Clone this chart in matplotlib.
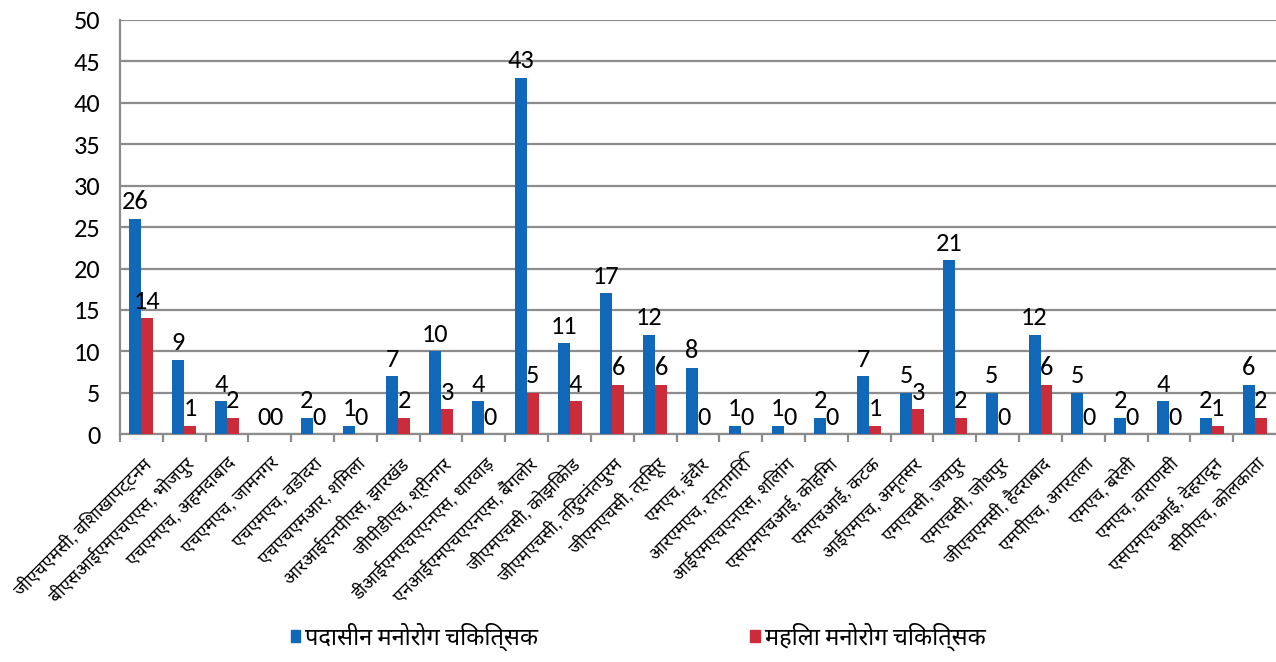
import matplotlib
matplotlib.use("Agg")
import matplotlib.pyplot as plt
from matplotlib import font_manager
from matplotlib.patches import Patch

categories = [
    "जीएचएमसी, विशाखापट्टनम", "बीएसआईएमएचएएस, भोजपुर", "एचएमएच, अहमदाबाद",
    "एचएमएच, जामनगर", "एचएमएच, वडोदरा", "एचएचएमआर, शिमला",
    "आरआईएनपीएस, झारखंड", "जीपीडीएच, श्रीनगर", "डीआईएमएचएएनएस, धारवाड़",
    "एनआईएमएचएएनएस, बैंगलोर", "जीएमएचसी, कोझिकोड", "जीएमएचसी, तिरुवनंतपुरम",
    "जीएमएचसी, त्रिसूर", "एमएच, इंदौर", "आरएमएच, रत्नागिरि",
    "आईएमएचएनएस, शिलांग", "एसएमएचआई, कोहिमा", "एमएचआई, कटक",
    "आईएमएच, अमृतसर", "एमएचसी, जयपुर", "एमएचसी, जोधपुर",
    "जीएचएमसी, हैदराबाद", "एमपीएच, अगरतला", "एमएच, बरेली",
    "एमएच, वाराणसी", "एसएमएचआई, देहरादून", "सीपीएच, कोलकाता",
]
incumbent = [26, 9, 4, 0, 2, 1, 7, 10, 4, 43, 11, 17, 12, 8, 1, 1, 2, 7, 5, 21, 5, 12, 5, 2, 4, 2, 6]
female = [14, 1, 2, 0, 0, 0, 2, 3, 0, 5, 4, 6, 6, 0, 0, 0, 0, 1, 3, 2, 0, 6, 0, 0, 0, 1, 2]
series_names = ["पदासीन मनोरोग चिकित्सक", "महिला मनोरोग चिकित्सक"]

# pick fonts: a Calibri-like one for digits, a proportional one for Devanagari
names = {f.name for f in font_manager.fontManager.ttflist}
latin = next((n for n in ["Carlito", "Lato", "Open Sans"] if n in names), "DejaVu Sans")
deva = next((n for n in ["Noto Sans Devanagari", "Mukta", "Ek Mukta", "Hind", "FreeSans"]
             if n in names), "DejaVu Sans")
plt.rcParams["font.family"] = [latin, deva, "DejaVu Sans"]

blue = "#1268b8"
red = "#cc2b3a"
grid_c = "#8c8c8c"

fig = plt.figure(figsize=(12.76, 6.62), dpi=100)
ax = fig.add_axes([0.094, 0.344, 0.906, 0.626])

x = list(range(len(categories)))
w = 0.28
ax.bar([i - w / 2 for i in x], incumbent, w, color=blue, zorder=3)
ax.bar([i + w / 2 for i in x], female, w, color=red, zorder=3)

for i, v in enumerate(incumbent):
    ax.annotate(str(v), (i - w / 2, v), xytext=(0, 4), textcoords="offset points",
                ha="center", va="bottom", fontsize=19, zorder=4)
for i, v in enumerate(female):
    ax.annotate(str(v), (i + w / 2, v), xytext=(0, 4), textcoords="offset points",
                ha="center", va="bottom", fontsize=19, zorder=4)

ax.set_xlim(-0.5, len(categories) - 0.5)
ax.set_ylim(0, 50)
ax.set_yticks(range(0, 51, 5))
ax.yaxis.grid(True, color=grid_c, linewidth=1.6, zorder=0)
ax.tick_params(axis="y", length=0, labelsize=19, pad=14)

ax.set_xticks([i + 0.5 for i in x[:-1]] + [-0.5], minor=True)
ax.set_xticks(x)
ax.set_xticklabels(categories, rotation=45, ha="right", rotation_mode="anchor", fontsize=13)
ax.tick_params(axis="x", which="major", length=0, pad=14)
ax.tick_params(axis="x", which="minor", length=6, color=grid_c, width=1.6)

for s in ["top", "right"]:
    ax.spines[s].set_visible(False)
ax.spines["left"].set_color(grid_c)
ax.spines["left"].set_linewidth(1.6)
ax.spines["bottom"].set_color(grid_c)
ax.spines["bottom"].set_linewidth(1.6)

handles = [Patch(color=blue), Patch(color=red)]
fig.legend(handles, series_names, loc="lower center", bbox_to_anchor=(0.5, -0.015), ncol=2,
           frameon=False, fontsize=17, handlelength=0.4, handleheight=0.4,
           handletextpad=0.2, columnspacing=9)

fig.savefig("out.png", dpi=100)
